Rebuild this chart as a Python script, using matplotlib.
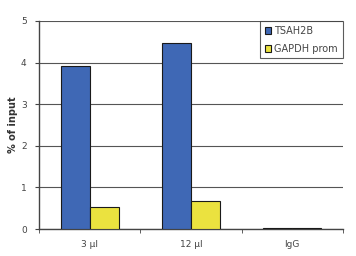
import matplotlib
matplotlib.use("Agg")
import matplotlib.pyplot as plt
import numpy as np

categories = ["3 µl", "12 µl", "IgG"]
tsah2b = [3.92, 4.47, 0.03]
gapdh = [0.53, 0.67, 0.03]
series_names = ["TSAH2B", "GAPDH prom"]

fig = plt.figure(figsize=(3.56, 2.56), dpi=100)
ax = fig.add_axes([0.11, 0.105, 0.853, 0.813])

x = np.arange(len(categories))
w = 0.285
ax.bar(x - w / 2, tsah2b, w, color="#3f68b5", edgecolor="#1a1a1a", linewidth=0.8,
       label=series_names[0], zorder=3)
ax.bar(x + w / 2, gapdh, w, color="#ebe23f", edgecolor="#1a1a1a", linewidth=0.8,
       label=series_names[1], zorder=3)

ax.set_xlim(-0.5, 2.5)
ax.set_ylim(0, 5)
ax.set_yticks(range(6))
ax.yaxis.grid(True, color="#555555", linewidth=0.8, zorder=0)
ax.set_xticks(x)
ax.set_xticklabels(categories)
ax.set_xticks([-0.5, 0.5, 1.5, 2.5], minor=True)
ax.tick_params(axis="x", which="major", length=0, pad=8)
ax.tick_params(axis="x", which="minor", length=3, color="#444444", direction="out")
ax.tick_params(axis="y", length=3, color="#444444", pad=6)
ax.tick_params(labelsize=6.5, labelcolor="#444444")

for s in ["top", "right"]:
    ax.spines[s].set_visible(False)
for s in ["left", "bottom"]:
    ax.spines[s].set_color("#444444")
    ax.spines[s].set_linewidth(1.0)

ax.set_ylabel("% of input", fontsize=7, fontweight="bold", color="#333333", labelpad=2)

leg = ax.legend(loc="upper right", bbox_to_anchor=(1.0, 1.0), fontsize=7,
                frameon=True, fancybox=False, edgecolor="#333333",
                handlelength=0.7, handleheight=0.7, handletextpad=0.3,
                borderpad=0.5, labelspacing=0.8, borderaxespad=0)
leg.get_frame().set_linewidth(0.8)
for t in leg.get_texts():
    t.set_color("#444444")

fig.savefig("out.png", dpi=100)
